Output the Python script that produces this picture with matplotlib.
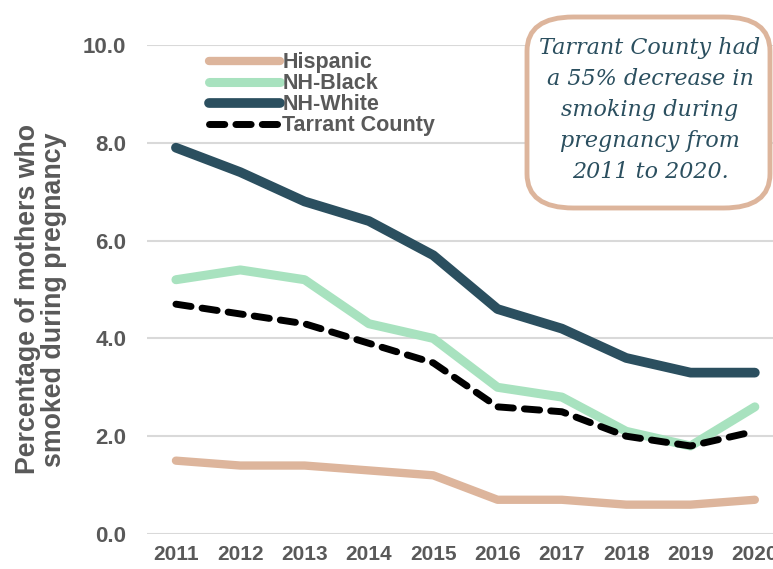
import matplotlib
matplotlib.use("Agg")
import matplotlib.pyplot as plt
from matplotlib.patches import FancyBboxPatch

plt.rcParams["font.family"] = ["Liberation Sans", "DejaVu Sans"]

years = [2011, 2012, 2013, 2014, 2015, 2016, 2017, 2018, 2019, 2020]
hispanic = [1.5, 1.4, 1.4, 1.3, 1.2, 0.7, 0.7, 0.6, 0.6, 0.7]
nh_black = [5.2, 5.4, 5.2, 4.3, 4.0, 3.0, 2.8, 2.1, 1.8, 2.6]
nh_white = [7.9, 7.4, 6.8, 6.4, 5.7, 4.6, 4.2, 3.6, 3.3, 3.3]
tarrant = [4.7, 4.5, 4.3, 3.9, 3.5, 2.6, 2.5, 2.0, 1.8, 2.1]
yticks = [0.0, 2.0, 4.0, 6.0, 8.0, 10.0]

GREY = "#595959"
fig = plt.figure(figsize=(7.73, 5.69), dpi=100)
ax = fig.add_axes([147 / 773, 1 - 534 / 569, (787 - 147) / 773, (534 - 45) / 569])

ax.plot(years, hispanic, color="#DDB59C", lw=6, solid_capstyle="round", label="Hispanic")
ax.plot(years, nh_black, color="#A8E2BF", lw=6.5, solid_capstyle="round", label="NH-Black")
ax.plot(years, nh_white, color="#2B4F5F", lw=7, solid_capstyle="round", label="NH-White")
ax.plot(years, tarrant, color="black", lw=5, ls=(0, (2.2, 1.6)), dash_capstyle="round",
        label="Tarrant County")

ax.set_xlim(2010.55, 2020.5)
ax.set_ylim(0, 10)
ax.set_yticks(yticks)
ax.set_yticklabels([f"{v:.1f}" for v in yticks], fontsize=16, fontweight="bold", color=GREY)
ax.set_xticks(years)
ax.set_xticklabels([str(y) for y in years], fontsize=15, fontweight="bold", color=GREY)
ax.tick_params(axis="y", length=0, pad=15)
ax.tick_params(axis="x", length=0, pad=8)
ax.grid(axis="y", color="#D9D9D9", lw=1.5)
ax.set_axisbelow(True)
for s in ax.spines.values():
    s.set_visible(False)

ax.set_ylabel("Percentage of mothers who\nsmoked during pregnancy", fontsize=19.3,
              fontweight="bold", color=GREY, linespacing=1.0)
ax.yaxis.set_label_coords(-0.125, 0.48)

leg = ax.legend(loc="upper left", bbox_to_anchor=(0.066, 1.025), frameon=False,
                handlelength=3.3, handletextpad=0.12, labelspacing=0.0,
                prop={"size": 15.5, "weight": "bold"})
for t in leg.get_texts():
    t.set_color(GREY)

box = FancyBboxPatch((527 / 773, 1 - 208 / 569), (770 - 527) / 773, (208 - 17) / 569,
                     boxstyle="round,pad=0,rounding_size=0.06", transform=fig.transFigure,
                     facecolor="white", edgecolor="#DDB59C", lw=3.5, zorder=5)
fig.patches.append(box)
fig.text(650 / 773, 1 - 110 / 569,
         "Tarrant County had\na 55% decrease in\nsmoking during\npregnancy from\n2011 to 2020.",
         ha="center", va="center", fontsize=16, style="italic", color="#2B4F5F",
         family="DejaVu Serif", linespacing=1.52, zorder=6)

fig.savefig("out.png", dpi=100)
